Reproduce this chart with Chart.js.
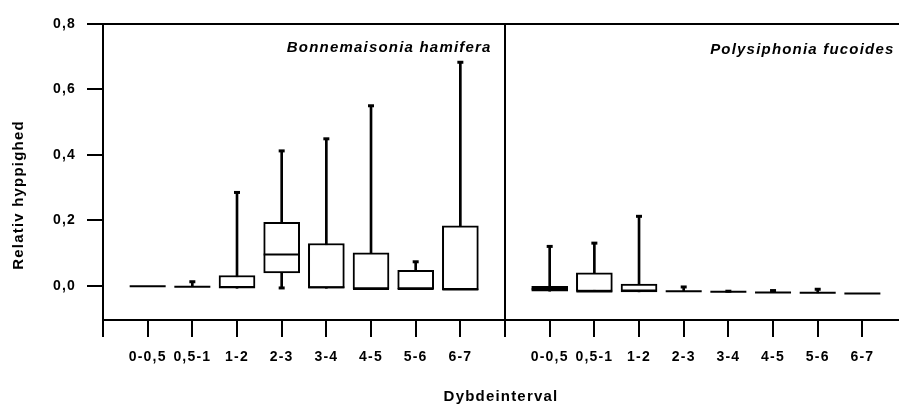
<!DOCTYPE html>
<html>
<head>
<meta charset="utf-8">
<title>Relativ hyppighed</title>
<script src="https://cdn.jsdelivr.net/npm/chart.js@4/dist/chart.umd.min.js"></script>
<style>
  body { margin: 0; background: #fff; }
  #chart { display: block; }
</style>
</head>
<body>
<canvas id="chart" width="899" height="407"></canvas>
<script>
// depth intervals, same for both panels
const depthLabels = ['0-0,5', '0,5-1', '1-2', '2-3', '3-4', '4-5', '5-6', '6-7'];
const species = ['Bonnemaisonia hamifera', 'Polysiphonia fucoides'];
const yTicks = [0, 0.2, 0.4, 0.6, 0.8];

// Bonnemaisonia hamifera
const bonMin    = [-0.002, -0.003, -0.008, -0.007, -0.008, -0.010, -0.010, -0.012];
const bonQ1     = [-0.002, -0.003, -0.008,  0.039, -0.008, -0.010, -0.010, -0.012];
const bonMedian = [-0.002, -0.003, -0.004,  0.095, -0.005, -0.010, -0.010, -0.012];
const bonQ3     = [-0.002, -0.003,  0.031,  0.194,  0.129,  0.100,  0.047,  0.183];
const bonMax    = [-0.002,  0.012,  0.285,  0.412,  0.449,  0.550,  0.073,  0.683];

// Polysiphonia fucoides
const polMin    = [-0.017, -0.018, -0.019, -0.017, -0.019, -0.021, -0.022, -0.024];
const polQ1     = [-0.017, -0.018, -0.019, -0.017, -0.019, -0.021, -0.022, -0.024];
const polMedian = [-0.010, -0.018, -0.015, -0.017, -0.019, -0.021, -0.022, -0.024];
const polQ3     = [-0.002,  0.039,  0.005, -0.017, -0.019, -0.021, -0.022, -0.024];
const polMax    = [ 0.120,  0.130,  0.212, -0.004, -0.017, -0.015, -0.011, -0.024];

// one slot per interval, panel 2 starts after the divider slot
var boxes = [];
function addPanel(p, mins, q1s, meds, q3s, maxs) {
  for (var i = 0; i < depthLabels.length; i++) {
    boxes.push({ x: p * 9 + i + 1, min: mins[i], q1: q1s[i], median: meds[i], q3: q3s[i], max: maxs[i] });
  }
}
addPanel(0, bonMin, bonQ1, bonMedian, bonQ3, bonMax);
addPanel(1, polMin, polQ1, polMedian, polQ3, polMax);

var xTickValues = [0];
var xTickText = { 0: '' };
boxes.forEach(function (b, i) {
  xTickValues.push(b.x);
  xTickText[b.x] = depthLabels[i % depthLabels.length];
});
xTickValues.push(9);
xTickText[9] = '';

var caps = [];
boxes.forEach(function (b) {
  if (b.max > b.q3) caps.push({ x: b.x, y: b.max });
  if (b.min < b.q1) caps.push({ x: b.x, y: b.min });
});

Chart.defaults.font.family = '"Liberation Sans", Arial, sans-serif';
Chart.defaults.font.weight = 'bold';
Chart.defaults.color = '#000';

// scanned lettering is spaced wide
const spacing = {
  id: 'spacing',
  beforeUpdate(chart) { chart.ctx.letterSpacing = '1.2px'; },
  beforeDraw(chart) { chart.ctx.letterSpacing = '1.2px'; }
};

// species names in the panel corners + the y title (sits lower than the axis middle)
const panelLabels = {
  id: 'panelLabels',
  afterDraw(chart) {
    const ctx = chart.ctx;
    const x = chart.scales.x, y = chart.scales.y;
    ctx.save();
    ctx.letterSpacing = '1.2px';
    ctx.fillStyle = '#000';
    ctx.font = 'italic bold 15px "Liberation Sans", Arial, sans-serif';
    ctx.textAlign = 'right';
    ctx.textBaseline = 'alphabetic';
    ctx.fillText(species[0], x.getPixelForValue(8.7), y.getPixelForValue(0.714));
    ctx.fillText(species[1], x.getPixelForValue(17.72), y.getPixelForValue(0.709));

    ctx.font = 'bold 15px "Liberation Sans", Arial, sans-serif';
    ctx.translate(19, 195);
    ctx.rotate(-Math.PI / 2);
    ctx.textAlign = 'center';
    ctx.textBaseline = 'middle';
    ctx.fillText('Relativ hyppighed', 0, 0);
    ctx.restore();
  }
};

const ctx = document.getElementById('chart').getContext('2d');
new Chart(ctx, {
  type: 'bar',
  data: {
    datasets: [
      {
        label: 'whisker',
        data: boxes.map(b => ({ x: b.x, y: [b.min, b.max] })),
        backgroundColor: '#000',
        borderWidth: 0,
        barThickness: 2,
        grouped: false,
        order: 3
      },
      {
        label: 'box',
        data: boxes.map(b => ({ x: b.x, y: [b.q1, b.q3] })),
        backgroundColor: '#fff',
        borderColor: '#000',
        borderWidth: 2,
        borderSkipped: false,
        barThickness: 36,
        grouped: false,
        order: 2
      },
      {
        type: 'scatter',
        label: 'median',
        data: boxes.map(b => ({ x: b.x, y: b.median })),
        pointStyle: 'line',
        pointRadius: 18,
        pointBorderWidth: 2,
        pointBorderColor: '#000',
        order: 1
      },
      {
        type: 'scatter',
        label: 'cap',
        data: caps,
        pointStyle: 'line',
        pointRadius: 3,
        pointBorderWidth: 3,
        pointBorderColor: '#000',
        order: 1
      }
    ]
  },
  options: {
    responsive: false,
    devicePixelRatio: 1,
    animation: false,
    events: [],
    layout: { autoPadding: false, padding: { top: 24, left: 0, right: 0, bottom: 0 } },
    plugins: {
      legend: { display: false },
      tooltip: { enabled: false }
    },
    scales: {
      x: {
        type: 'linear',
        position: 'bottom',
        min: 0,
        max: 17.82,
        offset: false,
        afterBuildTicks: function (scale) {
          scale.ticks = xTickValues.map(v => ({ value: v }));
        },
        afterFit: function (scale) {
          scale.height = 87;
          scale.paddingLeft = 0;
          scale.paddingRight = 0;
        },
        ticks: {
          autoSkip: false,
          maxRotation: 0,
          padding: 12,
          font: { size: 14 },
          callback: function (value) { return xTickText[value]; }
        },
        grid: {
          offset: false,
          drawOnChartArea: true,
          color: c => (c.tick && c.tick.value === 9) ? '#000' : 'rgba(0,0,0,0)',
          tickColor: '#000',
          lineWidth: 2,
          tickWidth: 2,
          tickLength: 17
        },
        border: { display: true, color: '#000', width: 2 },
        title: {
          display: true,
          text: 'Dybdeinterval',
          font: { size: 15 },
          padding: { top: 0, bottom: 1 }
        }
      },
      y: {
        type: 'linear',
        min: -0.105,
        max: 0.8,
        afterBuildTicks: function (scale) {
          scale.ticks = yTicks.map(v => ({ value: v }));
        },
        afterFit: function (scale) {
          scale.width = 103;
          scale.paddingTop = 0;
          scale.paddingBottom = 0;
        },
        ticks: {
          padding: 11,
          font: { size: 14 },
          callback: function (value) { return value.toFixed(1).replace('.', ','); }
        },
        grid: {
          drawOnChartArea: true,
          color: c => (c.tick && c.tick.value === 0.8) ? '#000' : 'rgba(0,0,0,0)',
          tickColor: '#000',
          lineWidth: 2,
          tickWidth: 2,
          tickLength: 16
        },
        border: { display: true, color: '#000', width: 2 },
        title: { display: false }
      }
    }
  },
  plugins: [spacing, panelLabels]
});
</script>
</body>
</html>
